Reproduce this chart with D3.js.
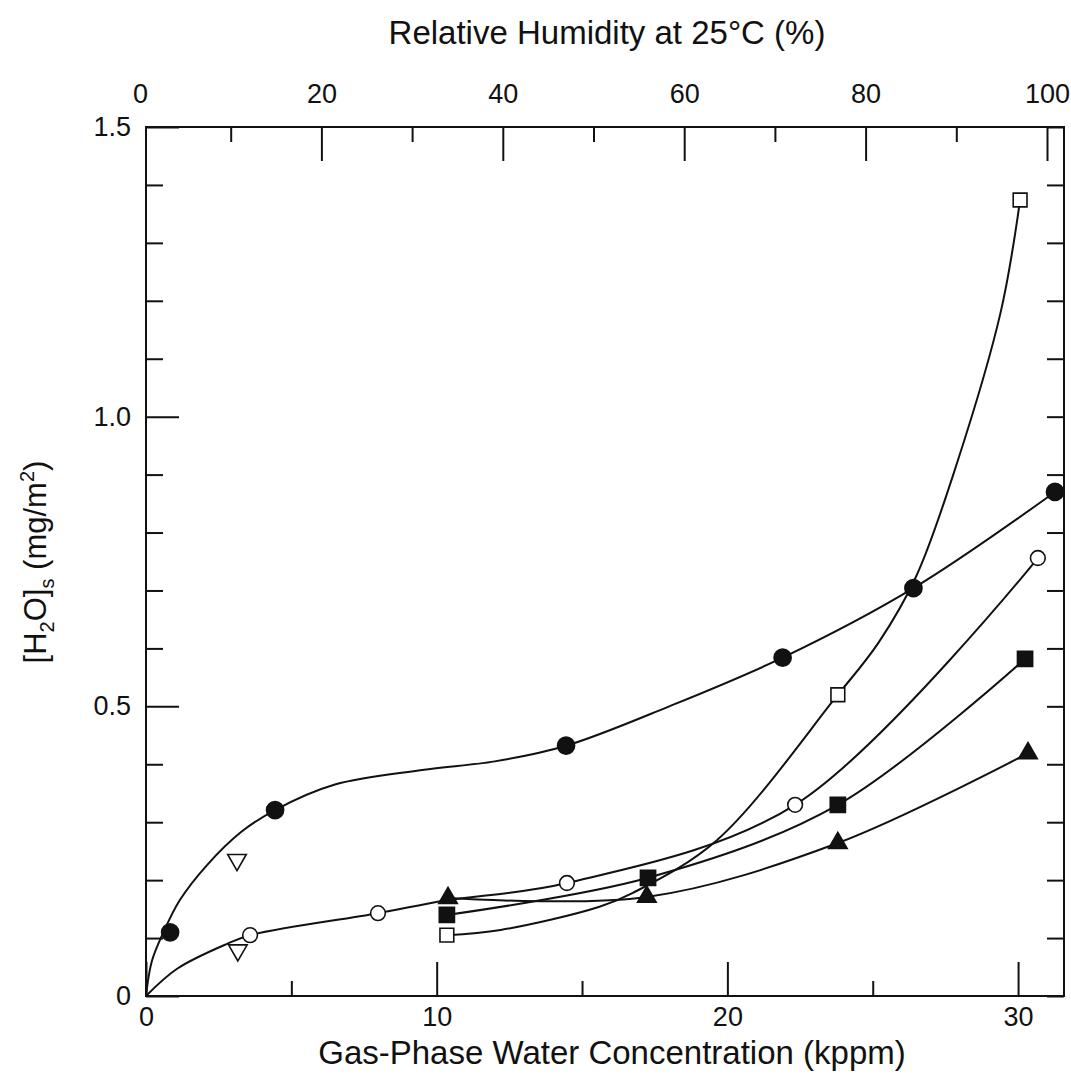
<!DOCTYPE html>
<html>
<head>
<meta charset="utf-8">
<script src="https://cdn.jsdelivr.net/npm/d3@7"></script>
<style>
    body { margin: 0; background: #fff; }
    svg text { font-family: "Liberation Sans", Arial, Helvetica, sans-serif; fill: #111; }
</style>
</head>
<body>
<svg id="chart" width="1071" height="1076"></svg>
<script>
// values: x = gas-phase water (kppm), y = [H2O]s (mg/m2)
const filledCircles = [[0.83, 0.110], [4.44, 0.321], [14.45, 0.432], [21.9, 0.584], [26.4, 0.704], [31.27, 0.870]];
const filledCircleCurve = [[0, 0], [0.2, 0.06], [0.6, 0.11], [1.17, 0.166], [2.1, 0.226], [3.27, 0.283], [4.44, 0.321],
    [6.5, 0.365], [9.5, 0.39], [12, 0.405], [14.45, 0.432], [18, 0.50], [21.9, 0.584], [26.4, 0.704], [31.27, 0.870]];

const openCircles = [[3.58, 0.105], [7.98, 0.143], [14.48, 0.195], [22.33, 0.33], [30.68, 0.756]];
const openCircleCurve = [[0, 0], [1.07, 0.047], [2.79, 0.09], [3.58, 0.105], [7.98, 0.143], [10.3, 0.165],
    [14.48, 0.195], [22.33, 0.33], [30.68, 0.756]];

const openSquares = [[10.35, 0.105], [23.8, 0.52], [30.07, 1.374]];
const openSquareCurve = [[10.35, 0.105], [12.2, 0.114], [15.6, 0.154], [16.75, 0.178], [19.64, 0.269],
    [23.8, 0.52], [25.2, 0.61], [26.5, 0.725], [27.9, 0.92], [29.4, 1.18], [30.07, 1.374]];

const filledSquares = [[10.35, 0.14], [17.27, 0.204], [23.8, 0.33], [30.24, 0.582]];
const filledTriangles = [[10.39, 0.169], [17.23, 0.171], [23.8, 0.264], [30.34, 0.419]];
const openTriangles = [[3.13, 0.235], [3.16, 0.079]];

const xTicks = [0, 10, 20, 30];
const xMinor = [5, 15, 25];
const yTicks = [0, 0.5, 1.0, 1.5];
const yMinor = [0.1, 0.2, 0.3, 0.4, 0.6, 0.7, 0.8, 0.9, 1.1, 1.2, 1.3, 1.4];
const rhTicks = [0, 20, 40, 60, 80, 100];
const rhMinor = [10, 30, 50, 70, 90];

const xTitle = 'Gas-Phase Water Concentration (kppm)';
const topTitle = 'Relative Humidity at 25\u00b0C (%)';

const plotLeft = 146, plotRight = 1064, plotTop = 127, plotBottom = 996;

const svg = d3.select('#chart');
const x = d3.scaleLinear().domain([0, 31.58]).range([plotLeft, plotRight]);
const y = d3.scaleLinear().domain([0, 1.5]).range([plotBottom, plotTop]);
const rh = d3.scaleLinear().domain([0, 100]).range([140, 1047]);

const cleanAxis = g => {
    g.select('.domain').remove();
    g.selectAll('.tick line').attr('stroke', '#111').attr('stroke-width', 2);
    g.selectAll('text').attr('font-size', 27).attr('fill', '#111')
        .style('font-family', '"Liberation Sans", Arial, sans-serif');
};

// bottom
svg.append('g').attr('transform', `translate(0,${plotBottom})`)
    .call(d3.axisBottom(x).tickValues(xTicks).tickSize(-34).tickPadding(11).tickFormat(d3.format('d')))
    .call(cleanAxis);
svg.append('g').attr('transform', `translate(0,${plotBottom})`)
    .call(d3.axisBottom(x).tickValues(xMinor).tickSize(-15).tickFormat(''))
    .call(cleanAxis);

// left
svg.append('g').attr('transform', `translate(${plotLeft},0)`)
    .call(d3.axisLeft(y).tickValues(yTicks).tickSize(-33).tickPadding(15).tickFormat(d => d === 0 ? '0' : d3.format('.1f')(d)))
    .call(cleanAxis);
svg.append('g').attr('transform', `translate(${plotLeft},0)`)
    .call(d3.axisLeft(y).tickValues(yMinor).tickSize(-17).tickFormat(''))
    .call(cleanAxis);

// right
svg.append('g').attr('transform', `translate(${plotRight},0)`)
    .call(d3.axisRight(y).tickValues(yTicks.concat(yMinor)).tickSize(-17).tickFormat(''))
    .call(cleanAxis);

// top (relative humidity)
const topAxis = svg.append('g').attr('transform', `translate(0,${plotTop})`)
    .call(d3.axisTop(rh).tickValues(rhTicks).tickSize(-34).tickPadding(24).tickFormat(d3.format('d')))
    .call(cleanAxis);
topAxis.selectAll('.tick').filter(d => d === 0).select('line').remove();
svg.append('g').attr('transform', `translate(0,${plotTop})`)
    .call(d3.axisTop(rh).tickValues(rhMinor).tickSize(-15).tickFormat(''))
    .call(cleanAxis);

// frame
svg.append('rect')
    .attr('x', plotLeft).attr('y', plotTop)
    .attr('width', plotRight - plotLeft).attr('height', plotBottom - plotTop)
    .attr('fill', 'none').attr('stroke', '#111').attr('stroke-width', 2);

// curves
const line = d3.line().x(d => x(d[0])).y(d => y(d[1])).curve(d3.curveCatmullRom.alpha(0.5));
[filledCircleCurve, openCircleCurve, openSquareCurve, filledSquares, filledTriangles].forEach(c => {
    svg.append('path').datum(c)
        .attr('d', line)
        .attr('fill', 'none').attr('stroke', '#111').attr('stroke-width', 2);
});

// markers
const markers = [
    { data: filledCircles, type: d3.symbolCircle, size: 230, fill: '#111' },
    { data: openCircles, type: d3.symbolCircle, size: 170, fill: '#fff' },
    { data: openSquares, type: d3.symbolSquare, size: 190, fill: '#fff' },
    { data: filledSquares, type: d3.symbolSquare, size: 230, fill: '#111' },
    { data: filledTriangles, type: d3.symbolTriangle, size: 150, fill: '#111' },
    { data: openTriangles, type: d3.symbolTriangle, size: 150, fill: '#fff', rotate: 180 },
];
markers.forEach(m => {
    svg.append('g').selectAll('path')
        .data(m.data)
        .enter().append('path')
        .attr('transform', d => `translate(${x(d[0])},${y(d[1])})` + (m.rotate ? ` rotate(${m.rotate})` : ''))
        .attr('d', d3.symbol().type(m.type).size(m.size))
        .attr('fill', m.fill)
        .attr('stroke', '#111')
        .attr('stroke-width', 1.6);
});

// titles
svg.append('text')
    .attr('x', 607).attr('y', 44)
    .attr('text-anchor', 'middle').attr('font-size', 33)
    .text(topTitle);

svg.append('text')
    .attr('x', 612).attr('y', 1064)
    .attr('text-anchor', 'middle').attr('font-size', 33)
    .text(xTitle);

const yLabel = svg.append('text')
    .attr('transform', 'translate(46,562) rotate(-90)')
    .attr('text-anchor', 'middle').attr('font-size', 31);
yLabel.append('tspan').text('[H');
yLabel.append('tspan').attr('font-size', 20).attr('dy', 8).text('2');
yLabel.append('tspan').attr('dy', -8).text('O]');
yLabel.append('tspan').attr('font-size', 20).attr('dy', 8).text('s');
yLabel.append('tspan').attr('dy', -8).text(' (mg/m');
yLabel.append('tspan').attr('font-size', 20).attr('dy', -12).text('2');
yLabel.append('tspan').attr('dy', 12).text(')');
</script>
</body>
</html>
